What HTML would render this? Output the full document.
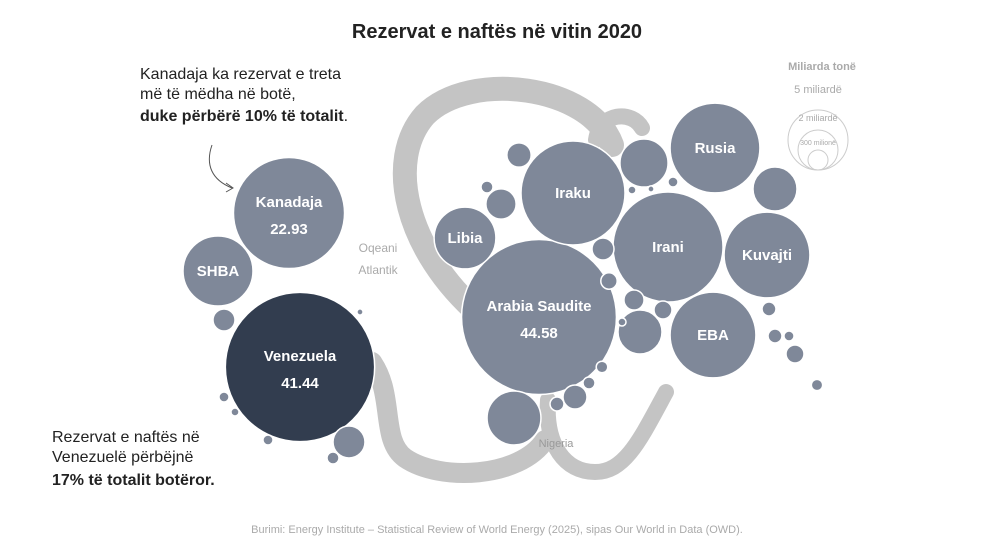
<!DOCTYPE html>
<html><head><meta charset="utf-8">
<style>
body{margin:0;background:#fff;font-family:"Liberation Sans","DejaVu Sans",sans-serif;}
svg{display:block}
</style></head>
<body>
<svg id="chart" width="995" height="550" viewBox="0 0 995 550" xmlns="http://www.w3.org/2000/svg">
<rect width="995" height="550" fill="#fff"/>
<text x="497" y="38" text-anchor="middle" font-size="20" font-weight="bold" fill="#222">Rezervat e naftës në vitin 2020</text>
<g id="swoosh" fill="none" stroke="#c4c4c4" stroke-linecap="round">
  <path d="M 612 145 C 590 85, 470 70, 425 115 C 385 160, 405 250, 480 315" stroke-width="24"/>
  <path d="M 596 140 C 600 112, 632 110, 642 128" stroke-width="16"/>
  <path d="M 372 362 C 395 395, 380 440, 405 458 C 440 482, 520 478, 545 440" stroke-width="20"/>
  <path d="M 666 392 C 640 440, 625 472, 595 472 C 565 472, 545 445, 548 400" stroke-width="16"/>
</g>
<g id="bubbles"></g>
<g id="legend" font-size="10" fill="#aaa" text-anchor="middle">
  <text x="822" y="70" font-size="11" font-weight="bold" fill="#aaa">Miliarda tonë</text>
  <text x="818" y="93" font-size="11">5 miliardë</text>
  <circle cx="818" cy="140" r="30" fill="none" stroke="#ccc"/>
  <text x="818" y="121" font-size="9">2 miliardë</text>
  <circle cx="818" cy="150" r="20" fill="none" stroke="#ccc"/>
  <text x="818" y="145" font-size="7">300 milionë</text>
  <circle cx="818" cy="160" r="10" fill="none" stroke="#ccc"/>
</g>
<text x="378" y="252" text-anchor="middle" font-size="12" fill="#aaa">Oqeani</text>
<text x="378" y="274" text-anchor="middle" font-size="12" fill="#aaa">Atlantik</text>
<text x="556" y="447" text-anchor="middle" font-size="11" fill="#999">Nigeria</text>
<g font-size="16" fill="#222">
  <text x="140" y="79">Kanadaja ka rezervat e treta</text>
  <text x="140" y="99">më të mëdha në botë,</text>
  <text x="140" y="121"><tspan font-weight="bold">duke përbërë 10% të totalit</tspan>.</text>
  <path d="M 212 145 C 205 165, 212 180, 232 188" fill="none" stroke="#555" stroke-width="1"/>
  <path d="M 226 183 L 233 188 L 226 192" fill="none" stroke="#555" stroke-width="1"/>
</g>
<g font-size="16" fill="#222">
  <text x="52" y="442">Rezervat e naftës në</text>
  <text x="52" y="462">Venezuelë përbëjnë</text>
  <text x="52" y="485" font-weight="bold">17% të totalit botëror.</text>
</g>
<text x="497" y="533" text-anchor="middle" font-size="11" fill="#aaa">Burimi: Energy Institute –  Statistical Review of World Energy (2025), sipas Our World in Data (OWD).</text>
</svg>
<script>
const countries = ["Venezuela","Arabia Saudite","Kanadaja","Iraku","Irani","Rusia","Kuvajti","EBA","SHBA","Libia","Nigeria","Katari","Kazakistani","Kina","Brazili","Meksika","Algjeria","Angola","Ekuadori","Azerbajxhani","Omani","Indi","Norvegjia","Egjipti","Malajzia","Sudani","Vietnami","Australia","Indonezia","Jemeni","Siria","Britania","Kolumbia","Argjentina","Peru","Tunizia","Gaboni","Kongo","Brunei","Tajlanda","Turkmenistani"];
const values = [41.44,44.58,22.93,20.1,22.5,15.0,13.7,13.7,9.1,7.1,5.4,4.3,3.6,3.6,1.9,0.9,1.1,1.7,0.9,0.5,0.75,0.6,1.07,0.27,0.36,0.36,0.6,0.24,0.19,0.36,0.12,0.27,0.19,0.27,0.19,0.12,0.19,0.25,0.12,0.07,0.07];
const posX = [300,539,289,573,668,715,767,713,218,465,514,644,775,640,349,224,519,501,603,609,634,663,575,589,557,769,795,817,789,775,632,487,673,333,224,235,268,602,622,651,360];
const posY = [367,317,213,193,247,148,255,335,271,238,418,163,189,332,442,320,155,204,249,281,300,310,397,383,404,309,354,385,336,336,190,187,182,458,397,412,440,367,322,189,312];
const labeled = {"Venezuela":"41.44","Arabia Saudite":"44.58","Kanadaja":"22.93","Iraku":null,"Irani":null,"Rusia":null,"Kuvajti":null,"EBA":null,"SHBA":null,"Libia":null};
const K = 11.6;
function rScale(v){ return Math.sqrt(v)*K; }
const NS="http://www.w3.org/2000/svg";
const g=document.getElementById('bubbles');
countries.forEach((c,i)=>{
  const circ=document.createElementNS(NS,'circle');
  circ.setAttribute('cx',posX[i]);circ.setAttribute('cy',posY[i]);
  circ.setAttribute('r',rScale(values[i]));
  circ.setAttribute('fill',c==="Venezuela"?"#323d4f":"#7f8899");
  circ.setAttribute('stroke','#fff');circ.setAttribute('stroke-width','1.5');
  
  
  g.appendChild(circ);
  if(c in labeled){
    const hasVal=labeled[c]!==null;
    const t=document.createElementNS(NS,'text');
    t.setAttribute('x',posX[i]);t.setAttribute('y',posY[i]+(hasVal?-6:5));
    t.setAttribute('text-anchor','middle');t.setAttribute('fill','#fff');
    t.setAttribute('font-size','15');t.setAttribute('font-weight','bold');
    t.textContent=c;
    
    
    g.appendChild(t);
    if(hasVal){
      const t2=document.createElementNS(NS,'text');
      t2.setAttribute('x',posX[i]);t2.setAttribute('y',posY[i]+21);
      t2.setAttribute('text-anchor','middle');t2.setAttribute('fill','#fff');
      t2.setAttribute('font-size','15');t2.setAttribute('font-weight','bold');
      t2.textContent=labeled[c];
      
      
      g.appendChild(t2);
    }
  }
});
</script>
</body></html>
